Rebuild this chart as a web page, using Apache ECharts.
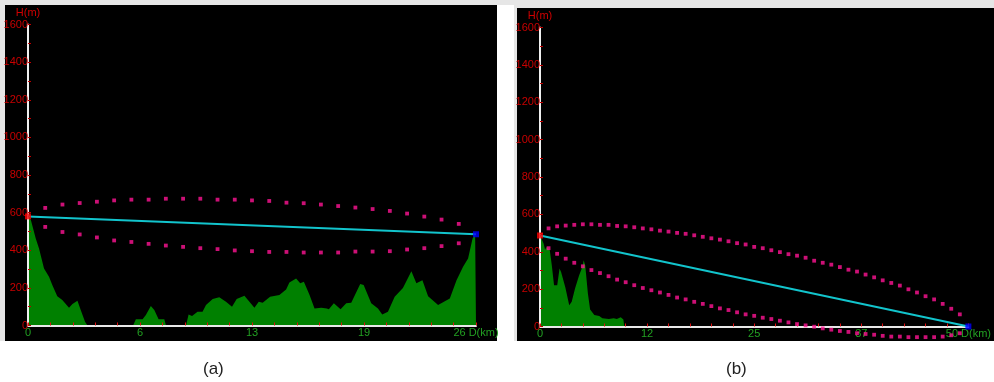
<!DOCTYPE html>
<html>
<head>
<meta charset="utf-8">
<script src="https://cdn.jsdelivr.net/npm/echarts@6/dist/echarts.min.js"></script>
<style>
  html, body { margin: 0; padding: 0; background: #fff; }
  #chart { width: 994px; height: 382px; }
</style>
</head>
<body>
<div id="chart"></div>
<script>
// ---- Link (a): 26 km path ----
const distA = 26;
const xLabelsA = ['0', '6', '13', '19', '26 D(km)'];
const profileKmA = [0, 0.17, 0.45, 0.64, 0.93, 1.22, 1.41, 1.70, 1.99, 2.38, 2.58, 2.87, 3.06, 3.31, 3.45,
  6.10, 6.26, 6.65, 6.84, 7.13, 7.33, 7.58, 7.91, 8.01,
  9.17, 9.32, 9.52, 9.84, 10.13, 10.33, 10.72, 11.10, 11.49, 11.84, 12.11, 12.56, 12.66, 13.14, 13.39, 13.62,
  14.05, 14.59, 14.98, 15.17, 15.56, 15.80, 16.01, 16.34, 16.63, 17.02, 17.34, 17.46, 17.75, 18.14, 18.47,
  18.76, 19.28, 19.48, 19.92, 20.31, 20.56, 20.89, 21.28, 21.76, 22.25, 22.54, 22.89, 23.22, 23.80, 24.48,
  24.87, 25.25, 25.54, 25.80, 25.95, 26];
const profileHA = [580, 560, 462, 409, 303, 259, 215, 156, 135, 94, 114, 131, 82, 20, 0,
  0, 33, 33, 56, 103, 82, 33, 33, 0,
  0, 59, 50, 73, 73, 109, 141, 150, 126, 100, 141, 158, 153, 94, 126, 121,
  153, 162, 192, 229, 250, 224, 232, 162, 91, 94, 91, 86, 118, 86, 118,
  121, 220, 215, 118, 91, 59, 73, 153, 200, 289, 224, 241, 156, 109, 144,
  241, 312, 356, 462, 485, 485];
const losA = [580, 485];          // antenna heights at start / end
const zoneKmA = [1, 2, 3, 4, 5, 6, 7, 8, 9, 10, 11, 12, 13, 14, 15, 16, 17, 18, 19, 20, 21, 22, 23, 24, 25];
const zoneUpA = [625, 643, 651, 658, 665, 669, 669, 674, 674, 674, 669, 669, 665, 662, 653, 650, 643, 635,
  627, 619, 609, 595, 579, 563, 540];
const zoneLoA = [524, 497, 484, 468, 452, 444, 434, 425, 418, 411, 406, 399, 395, 391, 391, 388, 388, 388,
  393, 393, 395, 404, 411, 422, 437];

// ---- Link (b): 50 km path ----
const distB = 50;
const xLabelsB = ['0', '12', '25', '37', '50 D(km)'];
const profileKmB = [0, 0.2, 0.43, 0.59, 0.77, 0.96, 1.15, 1.38, 1.64, 1.83, 2.01, 2.28, 2.46, 2.96, 3.41,
  3.70, 4.09, 4.57, 4.94, 5.10, 5.28, 5.59, 5.85, 6.34, 6.91, 7.28, 8.04, 8.60, 8.97, 9.42, 9.73, 9.84];
const profileHB = [490, 496, 443, 411, 425, 430, 407, 327, 221, 230, 221, 310, 291, 209, 114,
  132, 203, 274, 318, 354, 327, 177, 91, 61, 56, 44, 40, 44, 40, 49, 38, 0];
const losB = [487, 0];
const zoneKmB = [1, 2, 3, 4, 5, 6, 7, 8, 9, 10, 11, 12, 13, 14, 15, 16, 17, 18, 19, 20, 21, 22, 23, 24, 25,
  26, 27, 28, 29, 30, 31, 32, 33, 34, 35, 36, 37, 38, 39, 40, 41, 42, 43, 44, 45, 46, 47, 48, 49];
const zoneUpB = [525, 536, 540, 544, 547, 547, 544, 544, 538, 536, 531, 525, 520, 513, 508, 501, 496, 488,
  480, 472, 465, 456, 446, 439, 426, 419, 408, 398, 387, 379, 368, 352, 341, 331, 318, 304, 294, 278,
  263, 247, 233, 219, 199, 182, 162, 145, 121, 95, 65];
const zoneLoB = [419, 389, 363, 341, 322, 302, 286, 269, 251, 237, 221, 206, 194, 182, 169, 155, 145, 132,
  121, 109, 97, 88, 76, 65, 57, 47, 40, 31, 22, 13, 6, -1, -10, -17, -24, -29, -36, -40, -44, -50,
  -54, -54, -57, -57, -57, -57, -54, -47, -36];

const FONT = 'Liberation Sans, Arial, sans-serif';
const pairs = (xs, ys) => xs.map((x, i) => [x, ys[i]]);

function xAxisFor(gridIndex, dist, labels) {
  return {
    type: 'value', gridIndex, min: 0, max: dist, interval: dist / 4, z: 3,
    axisLine: { show: true, lineStyle: { color: '#e8e8e8', width: 2 } },
    axisTick: { show: true, inside: true, length: 3, lineStyle: { color: '#e01010', width: 1 } },
    minorTick: { show: true, splitNumber: 5, length: 3, lineStyle: { color: '#e01010', width: 1 } },
    splitLine: { show: false },
    axisLabel: {
      show: true, margin: 2, color: '#22a022', fontSize: 11, fontFamily: FONT,
      showMinLabel: true, showMaxLabel: true,
      formatter: (v, i) => labels[i]
    }
  };
}

function yAxisFor(gridIndex) {
  return {
    type: 'value', gridIndex, min: 0, max: 1600, interval: 200, z: 3,
    name: 'H(m)', nameLocation: 'end', nameGap: 6,
    nameTextStyle: { color: '#d00000', fontSize: 11, fontFamily: FONT, align: 'center' },
    axisLine: { show: true, lineStyle: { color: '#f0f0f0', width: 2 } },
    axisTick: { show: true, inside: true, length: 3, lineStyle: { color: '#c00000', width: 1 } },
    minorTick: { show: true, splitNumber: 2, length: 3, lineStyle: { color: '#c00000', width: 1 } },
    splitLine: { show: false },
    axisLabel: {
      show: true, margin: 0, color: '#c80000', fontSize: 11, fontFamily: FONT,
      formatter: (v) => String(v)
    }
  };
}

function seriesFor(idx, dist, profKm, profH, los, zKm, zUp, zLo) {
  return [
    {
      type: 'line', xAxisIndex: idx, yAxisIndex: idx, z: 1,
      data: pairs(profKm, profH), symbol: 'none',
      lineStyle: { width: 0 }, areaStyle: { color: '#008000', opacity: 1 },
      itemStyle: { color: '#008000' }, silent: true
    },
    {
      type: 'line', xAxisIndex: idx, yAxisIndex: idx, z: 4,
      data: [[0, los[0]], [dist, los[1]]], symbol: 'none',
      lineStyle: { color: '#12c4cc', width: 2 }, silent: true
    },
    {
      type: 'scatter', xAxisIndex: idx, yAxisIndex: idx, z: 5, clip: false,
      data: pairs(zKm, zUp), symbol: 'rect', symbolSize: 3.8,
      itemStyle: { color: '#ff1493' }, silent: true
    },
    {
      type: 'scatter', xAxisIndex: idx, yAxisIndex: idx, z: 5, clip: false,
      data: pairs(zKm, zLo), symbol: 'rect', symbolSize: 3.8,
      itemStyle: { color: '#ff1493' }, silent: true
    },
    {
      type: 'scatter', xAxisIndex: idx, yAxisIndex: idx, z: 6, clip: false,
      data: [[0, los[0]]], symbol: 'rect', symbolSize: 6,
      itemStyle: { color: '#ff0000' }, silent: true
    },
    {
      type: 'scatter', xAxisIndex: idx, yAxisIndex: idx, z: 6, clip: false,
      data: [[dist, los[1]]], symbol: 'rect', symbolSize: 6,
      itemStyle: { color: '#0000ff' }, silent: true
    }
  ];
}

const chart = echarts.init(document.getElementById('chart'), null, { renderer: 'canvas' });
chart.setOption({
  backgroundColor: '#ffffff',
  animation: false,
  graphic: [
    { type: 'rect', z: -10, shape: { x: 0, y: 0, width: 994, height: 5 }, style: { fill: '#e6e6e6' } },
    { type: 'rect', z: -10, shape: { x: 0, y: 0, width: 5, height: 341 }, style: { fill: '#e6e6e6' } },
    { type: 'rect', z: -9, shape: { x: 5, y: 5, width: 492, height: 336 }, style: { fill: '#000000' } },
    { type: 'rect', z: -10, shape: { x: 514, y: 0, width: 480, height: 341 }, style: { fill: '#e6e6e6' } },
    { type: 'rect', z: -9, shape: { x: 517, y: 8, width: 477, height: 333 }, style: { fill: '#000000' } },
    { type: 'text', z: 10, left: 203, top: 361, style: { text: '(a)', fill: '#222', font: '17px ' + FONT } },
    { type: 'text', z: 10, left: 726, top: 361, style: { text: '(b)', fill: '#222', font: '17px ' + FONT } }
  ],
  grid: [
    { left: 28, top: 24.5, width: 448, height: 301 },
    { left: 540, top: 27.5, width: 443, height: 299 }
  ],
  xAxis: [xAxisFor(0, distA, xLabelsA), xAxisFor(1, distB, xLabelsB)],
  yAxis: [yAxisFor(0), yAxisFor(1)],
  series: [
    ...seriesFor(0, distA, profileKmA, profileHA, losA, zoneKmA, zoneUpA, zoneLoA),
    ...seriesFor(1, distB, profileKmB, profileHB, losB, zoneKmB, zoneUpB, zoneLoB)
  ]
});
</script>
</body>
</html>
